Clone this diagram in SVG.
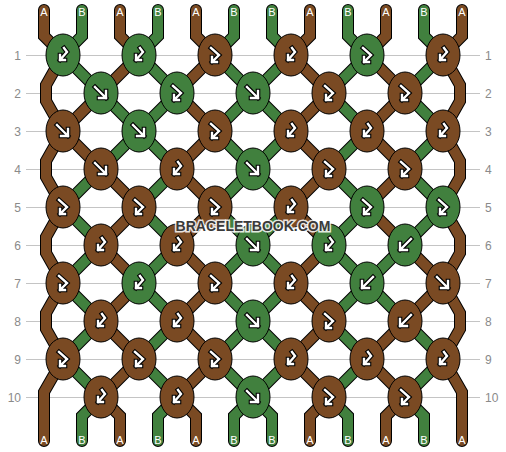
<svg xmlns="http://www.w3.org/2000/svg" width="506" height="452" viewBox="0 0 506 452">
<style>
.grid{stroke:#c4c4c4;stroke-width:1}
.num{font-family:"Liberation Sans",Arial,sans-serif;font-size:12px;fill:#8a8a8a}
.l{text-anchor:end}
.ol{fill:none;stroke:#000;stroke-width:12;stroke-linejoin:miter;stroke-linecap:round}
.sa{fill:none;stroke:#7a4a23;stroke-width:10;stroke-linejoin:miter;stroke-linecap:round}
.sb{fill:none;stroke:#41803e;stroke-width:10;stroke-linejoin:miter;stroke-linecap:round}
.ka{fill:#7a4a23;stroke:#000;stroke-width:1}
.kb{fill:#41803e;stroke:#000;stroke-width:1}
.lbl{font-family:"Liberation Sans",Arial,sans-serif;font-size:11px;fill:#fff;text-anchor:middle}
.ao{fill:none;stroke:#000;stroke-width:4.6;stroke-linecap:square;stroke-linejoin:miter}
.aw{fill:none;stroke:#fff;stroke-width:2.4;stroke-linecap:square;stroke-linejoin:miter}
.wm{font-family:"Liberation Sans",Arial,sans-serif;font-size:14px;font-weight:bold;fill:#3a3a3a;stroke:#fff;stroke-width:3;stroke-opacity:0.85;paint-order:stroke;text-anchor:middle}
</style>
<defs>
<g id="f"><path class="ao" d="M-6,-6 L5,5 M-2,5 H5 V-2"/><path class="aw" d="M-6,-6 L5,5 M-2,5 H5 V-2"/></g>
<g id="b"><path class="ao" d="M6,-6 L-5,5 M2,5 H-5 V-2"/><path class="aw" d="M6,-6 L-5,5 M2,5 H-5 V-2"/></g>
<g id="fb"><path class="ao" d="M-4,-7 L4,0 L-3,7 M-3,2 V7 H2"/><path class="aw" d="M-4,-7 L4,0 L-3,7 M-3,2 V7 H2"/></g>
<g id="bf"><path class="ao" d="M1,-7 L4,-3 L-3,5 M-3,0 V5 H2"/><path class="aw" d="M1,-7 L4,-3 L-3,5 M-3,0 V5 H2"/></g>
<path id="p0" d="M44,10 V36 L63,55 L46,85 V101 L63,131 L46,161 V177 L63,207 L46,237 V253 L63,283 L46,313 V329 L63,359 L44,392 V441"/>
<path id="p11" d="M462,10 V36 L443,55 L460,85 V101 L443,131 L460,161 V177 L443,207 L460,237 V253 L443,283 L460,313 V329 L443,359 L462,392 V441"/>
<path id="p1a" d="M82,10 V36 L63,55 L101,93"/>
<path id="p1b" d="M101,93 L63,131 L101,169"/>
<path id="p1c" d="M101,169 L63,207 L101,245 L63,283 L101,321 L63,359 L101,397 L82,416 V441"/>
<path id="p2a" d="M120,10 V36 L139,55 L101,93"/>
<path id="p2b" d="M101,93 L139,131 L101,169"/>
<path id="p2c" d="M101,169 L139,207 L101,245 L139,283 L101,321 L139,359 L101,397 L120,416 V441"/>
<path id="p3" d="M158,10 V36 L139,55 L177,93 L139,131 L177,169 L139,207 L177,245 L139,283 L177,321 L139,359 L177,397 L158,416 V441"/>
<path id="p4" d="M196,10 V36 L215,55 L177,93 L215,131 L177,169 L215,207 L177,245 L215,283 L177,321 L215,359 L177,397 L196,416 V441"/>
<path id="p5" d="M234,10 V36 L215,55 L253,93 L215,131 L253,169 L215,207 L253,245 L215,283 L253,321 L215,359 L253,397 L234,416 V441"/>
<path id="p6" d="M272,10 V36 L291,55 L253,93 L291,131 L253,169 L291,207 L253,245 L291,283 L253,321 L291,359 L253,397 L272,416 V441"/>
<path id="p7" d="M310,10 V36 L291,55 L329,93 L291,131 L329,169 L291,207 L329,245 L291,283 L329,321 L291,359 L329,397 L310,416 V441"/>
<path id="p8" d="M348,10 V36 L367,55 L329,93 L367,131 L329,169 L367,207 L329,245 L367,283 L329,321 L367,359 L329,397 L348,416 V441"/>
<path id="p9a" d="M386,10 V36 L367,55 L405,93 L367,131 L405,169 L367,207 L405,245"/>
<path id="p9b" d="M405,245 L367,283 L405,321"/>
<path id="p9c" d="M405,321 L367,359 L405,397 L386,416 V441"/>
<path id="p10a" d="M424,10 V36 L443,55 L405,93 L443,131 L405,169 L443,207 L405,245"/>
<path id="p10b" d="M405,245 L443,283 L405,321"/>
<path id="p10c" d="M405,321 L443,359 L405,397 L424,416 V441"/>
</defs>
<rect width="506" height="452" fill="#fff"/>
<g id="grid">
<line class="grid" x1="26" y1="55.5" x2="480" y2="55.5"/>
<line class="grid" x1="26" y1="93.5" x2="480" y2="93.5"/>
<line class="grid" x1="26" y1="131.5" x2="480" y2="131.5"/>
<line class="grid" x1="26" y1="169.5" x2="480" y2="169.5"/>
<line class="grid" x1="26" y1="207.5" x2="480" y2="207.5"/>
<line class="grid" x1="26" y1="245.5" x2="480" y2="245.5"/>
<line class="grid" x1="26" y1="283.5" x2="480" y2="283.5"/>
<line class="grid" x1="26" y1="321.5" x2="480" y2="321.5"/>
<line class="grid" x1="26" y1="359.5" x2="480" y2="359.5"/>
<line class="grid" x1="26" y1="397.5" x2="480" y2="397.5"/>
<text class="num l" x="21" y="59.5">1</text><text class="num" x="485" y="59.5">1</text>
<text class="num l" x="21" y="97.5">2</text><text class="num" x="485" y="97.5">2</text>
<text class="num l" x="21" y="135.5">3</text><text class="num" x="485" y="135.5">3</text>
<text class="num l" x="21" y="173.5">4</text><text class="num" x="485" y="173.5">4</text>
<text class="num l" x="21" y="211.5">5</text><text class="num" x="485" y="211.5">5</text>
<text class="num l" x="21" y="249.5">6</text><text class="num" x="485" y="249.5">6</text>
<text class="num l" x="21" y="287.5">7</text><text class="num" x="485" y="287.5">7</text>
<text class="num l" x="21" y="325.5">8</text><text class="num" x="485" y="325.5">8</text>
<text class="num l" x="21" y="363.5">9</text><text class="num" x="485" y="363.5">9</text>
<text class="num l" x="21" y="401.5">10</text><text class="num" x="485" y="401.5">10</text>
</g>
<g id="connectors">
<g class="ol">
<use href="#p0"/><use href="#p11"/><use href="#p1a"/><use href="#p1b"/><use href="#p1c"/><use href="#p2a"/><use href="#p2b"/><use href="#p2c"/><use href="#p3"/><use href="#p4"/><use href="#p5"/><use href="#p6"/><use href="#p7"/><use href="#p8"/><use href="#p9a"/><use href="#p9b"/><use href="#p9c"/><use href="#p10a"/><use href="#p10b"/><use href="#p10c"/>
</g>
<g class="sa">
<use href="#p0"/><use href="#p11"/><use href="#p1b"/><use href="#p2a"/><use href="#p2c"/><use href="#p4"/><use href="#p7"/><use href="#p9a"/><use href="#p9c"/><use href="#p10b"/>
</g>
<g class="sb">
<use href="#p1a"/><use href="#p1c"/><use href="#p2b"/><use href="#p3"/><use href="#p5"/><use href="#p6"/><use href="#p8"/><use href="#p9b"/><use href="#p10a"/><use href="#p10c"/>
</g>
</g>
<g id="strand-labels">
<text class="lbl" x="44" y="16">A</text><text class="lbl" x="82" y="16">B</text><text class="lbl" x="120" y="16">A</text><text class="lbl" x="158" y="16">B</text><text class="lbl" x="196" y="16">A</text><text class="lbl" x="234" y="16">B</text><text class="lbl" x="272" y="16">B</text><text class="lbl" x="310" y="16">A</text><text class="lbl" x="348" y="16">B</text><text class="lbl" x="386" y="16">A</text><text class="lbl" x="424" y="16">B</text><text class="lbl" x="462" y="16">A</text>
<text class="lbl" x="44" y="444">A</text><text class="lbl" x="82" y="444">B</text><text class="lbl" x="120" y="444">A</text><text class="lbl" x="158" y="444">B</text><text class="lbl" x="196" y="444">A</text><text class="lbl" x="234" y="444">B</text><text class="lbl" x="272" y="444">B</text><text class="lbl" x="310" y="444">A</text><text class="lbl" x="348" y="444">B</text><text class="lbl" x="386" y="444">A</text><text class="lbl" x="424" y="444">B</text><text class="lbl" x="462" y="444">A</text>
</g>
<g id="knots">
<g id="k1-1"><ellipse class="kb" cx="63" cy="55" rx="17" ry="21"/><use href="#bf" x="63" y="55"/></g>
<g id="k1-2"><ellipse class="kb" cx="139" cy="55" rx="17" ry="21"/><use href="#bf" x="139" y="55"/></g>
<g id="k1-3"><ellipse class="ka" cx="215" cy="55" rx="17" ry="21"/><use href="#fb" x="215" y="55"/></g>
<g id="k1-4"><ellipse class="ka" cx="291" cy="55" rx="17" ry="21"/><use href="#bf" x="291" y="55"/></g>
<g id="k1-5"><ellipse class="kb" cx="367" cy="55" rx="17" ry="21"/><use href="#fb" x="367" y="55"/></g>
<g id="k1-6"><ellipse class="ka" cx="443" cy="55" rx="17" ry="21"/><use href="#bf" x="443" y="55"/></g>
<g id="k2-1"><ellipse class="kb" cx="101" cy="93" rx="17" ry="21"/><use href="#f" x="101" y="93"/></g>
<g id="k2-2"><ellipse class="kb" cx="177" cy="93" rx="17" ry="21"/><use href="#fb" x="177" y="93"/></g>
<g id="k2-3"><ellipse class="kb" cx="253" cy="93" rx="17" ry="21"/><use href="#f" x="253" y="93"/></g>
<g id="k2-4"><ellipse class="ka" cx="329" cy="93" rx="17" ry="21"/><use href="#fb" x="329" y="93"/></g>
<g id="k2-5"><ellipse class="ka" cx="405" cy="93" rx="17" ry="21"/><use href="#fb" x="405" y="93"/></g>
<g id="k3-1"><ellipse class="ka" cx="63" cy="131" rx="17" ry="21"/><use href="#f" x="63" y="131"/></g>
<g id="k3-2"><ellipse class="kb" cx="139" cy="131" rx="17" ry="21"/><use href="#f" x="139" y="131"/></g>
<g id="k3-3"><ellipse class="ka" cx="215" cy="131" rx="17" ry="21"/><use href="#fb" x="215" y="131"/></g>
<g id="k3-4"><ellipse class="ka" cx="291" cy="131" rx="17" ry="21"/><use href="#bf" x="291" y="131"/></g>
<g id="k3-5"><ellipse class="ka" cx="367" cy="131" rx="17" ry="21"/><use href="#bf" x="367" y="131"/></g>
<g id="k3-6"><ellipse class="ka" cx="443" cy="131" rx="17" ry="21"/><use href="#bf" x="443" y="131"/></g>
<g id="k4-1"><ellipse class="ka" cx="101" cy="169" rx="17" ry="21"/><use href="#f" x="101" y="169"/></g>
<g id="k4-2"><ellipse class="ka" cx="177" cy="169" rx="17" ry="21"/><use href="#bf" x="177" y="169"/></g>
<g id="k4-3"><ellipse class="kb" cx="253" cy="169" rx="17" ry="21"/><use href="#f" x="253" y="169"/></g>
<g id="k4-4"><ellipse class="ka" cx="329" cy="169" rx="17" ry="21"/><use href="#fb" x="329" y="169"/></g>
<g id="k4-5"><ellipse class="ka" cx="405" cy="169" rx="17" ry="21"/><use href="#fb" x="405" y="169"/></g>
<g id="k5-1"><ellipse class="ka" cx="63" cy="207" rx="17" ry="21"/><use href="#fb" x="63" y="207"/></g>
<g id="k5-2"><ellipse class="ka" cx="139" cy="207" rx="17" ry="21"/><use href="#fb" x="139" y="207"/></g>
<g id="k5-3"><ellipse class="ka" cx="215" cy="207" rx="17" ry="21"/><use href="#fb" x="215" y="207"/></g>
<g id="k5-4"><ellipse class="ka" cx="291" cy="207" rx="17" ry="21"/><use href="#bf" x="291" y="207"/></g>
<g id="k5-5"><ellipse class="kb" cx="367" cy="207" rx="17" ry="21"/><use href="#fb" x="367" y="207"/></g>
<g id="k5-6"><ellipse class="kb" cx="443" cy="207" rx="17" ry="21"/><use href="#fb" x="443" y="207"/></g>
<g id="k6-1"><ellipse class="ka" cx="101" cy="245" rx="17" ry="21"/><use href="#bf" x="101" y="245"/></g>
<g id="k6-2"><ellipse class="ka" cx="177" cy="245" rx="17" ry="21"/><use href="#bf" x="177" y="245"/></g>
<g id="k6-3"><ellipse class="kb" cx="253" cy="245" rx="17" ry="21"/><use href="#f" x="253" y="245"/></g>
<g id="k6-4"><ellipse class="kb" cx="329" cy="245" rx="17" ry="21"/><use href="#bf" x="329" y="245"/></g>
<g id="k6-5"><ellipse class="kb" cx="405" cy="245" rx="17" ry="21"/><use href="#b" x="405" y="245"/></g>
<g id="k7-1"><ellipse class="ka" cx="63" cy="283" rx="17" ry="21"/><use href="#fb" x="63" y="283"/></g>
<g id="k7-2"><ellipse class="kb" cx="139" cy="283" rx="17" ry="21"/><use href="#bf" x="139" y="283"/></g>
<g id="k7-3"><ellipse class="ka" cx="215" cy="283" rx="17" ry="21"/><use href="#fb" x="215" y="283"/></g>
<g id="k7-4"><ellipse class="ka" cx="291" cy="283" rx="17" ry="21"/><use href="#bf" x="291" y="283"/></g>
<g id="k7-5"><ellipse class="kb" cx="367" cy="283" rx="17" ry="21"/><use href="#b" x="367" y="283"/></g>
<g id="k7-6"><ellipse class="ka" cx="443" cy="283" rx="17" ry="21"/><use href="#f" x="443" y="283"/></g>
<g id="k8-1"><ellipse class="ka" cx="101" cy="321" rx="17" ry="21"/><use href="#bf" x="101" y="321"/></g>
<g id="k8-2"><ellipse class="ka" cx="177" cy="321" rx="17" ry="21"/><use href="#bf" x="177" y="321"/></g>
<g id="k8-3"><ellipse class="kb" cx="253" cy="321" rx="17" ry="21"/><use href="#f" x="253" y="321"/></g>
<g id="k8-4"><ellipse class="ka" cx="329" cy="321" rx="17" ry="21"/><use href="#fb" x="329" y="321"/></g>
<g id="k8-5"><ellipse class="ka" cx="405" cy="321" rx="17" ry="21"/><use href="#b" x="405" y="321"/></g>
<g id="k9-1"><ellipse class="ka" cx="63" cy="359" rx="17" ry="21"/><use href="#fb" x="63" y="359"/></g>
<g id="k9-2"><ellipse class="ka" cx="139" cy="359" rx="17" ry="21"/><use href="#fb" x="139" y="359"/></g>
<g id="k9-3"><ellipse class="ka" cx="215" cy="359" rx="17" ry="21"/><use href="#fb" x="215" y="359"/></g>
<g id="k9-4"><ellipse class="ka" cx="291" cy="359" rx="17" ry="21"/><use href="#bf" x="291" y="359"/></g>
<g id="k9-5"><ellipse class="ka" cx="367" cy="359" rx="17" ry="21"/><use href="#bf" x="367" y="359"/></g>
<g id="k9-6"><ellipse class="ka" cx="443" cy="359" rx="17" ry="21"/><use href="#bf" x="443" y="359"/></g>
<g id="k10-1"><ellipse class="ka" cx="101" cy="397" rx="17" ry="21"/><use href="#bf" x="101" y="397"/></g>
<g id="k10-2"><ellipse class="ka" cx="177" cy="397" rx="17" ry="21"/><use href="#bf" x="177" y="397"/></g>
<g id="k10-3"><ellipse class="kb" cx="253" cy="397" rx="17" ry="21"/><use href="#f" x="253" y="397"/></g>
<g id="k10-4"><ellipse class="ka" cx="329" cy="397" rx="17" ry="21"/><use href="#fb" x="329" y="397"/></g>
<g id="k10-5"><ellipse class="ka" cx="405" cy="397" rx="17" ry="21"/><use href="#fb" x="405" y="397"/></g>
</g>
<text class="wm" x="253" y="231">BRACELETBOOK.COM</text>
</svg>
